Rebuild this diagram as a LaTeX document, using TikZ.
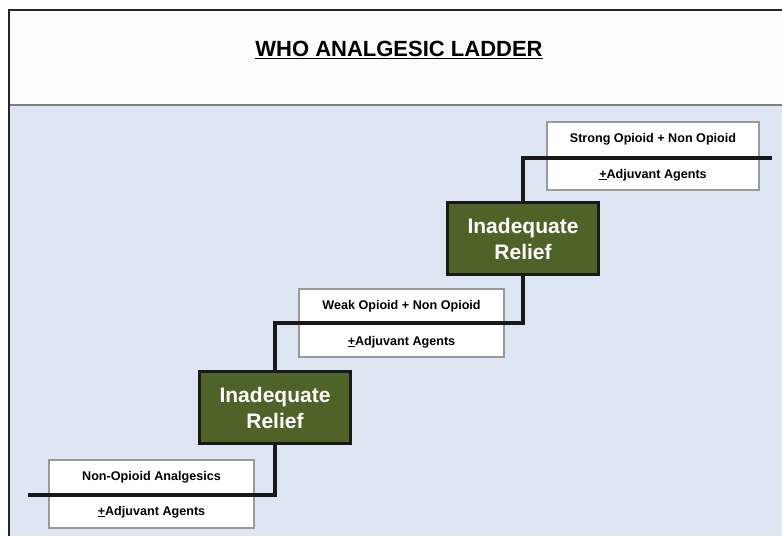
\documentclass[tikz,border=0pt]{standalone}
\usepackage{fontspec}
\setmainfont{Liberation Sans}
\definecolor{bgblue}{HTML}{DFE6F3}
\definecolor{stepgreen}{HTML}{4F6228}
\definecolor{boxgray}{HTML}{9A9A9A}
\begin{document}
\begin{tikzpicture}[x=1pt,y=-1pt,
  drugbox/.style={draw=boxgray,line width=1.2pt,fill=white,minimum width=#1,minimum height=68pt,inner sep=0pt},
  drugtext/.style={font=\bfseries\fontsize{12.6}{14}\selectfont,inner sep=0pt},
  relief/.style={draw=black!90,line width=3pt,fill=stepgreen,text=white,minimum width=151pt,minimum height=72pt,align=center,font=\bfseries\fontsize{21}{26}\selectfont,inner sep=0pt},
  stair/.style={line width=3.8pt,black!90}]
\useasboundingbox (0,0) rectangle (782,536);
\fill[white] (0,0) rectangle (782,536);
\fill[white!99!black] (9,10) rectangle (782,105);
\fill[bgblue] (9,105) rectangle (782,536);
\draw[gray,line width=1.5pt] (9,105) -- (782,105);
\draw[black!85,line width=2pt] (9,536) -- (9,10) -- (782,10);
\node[font=\bfseries\fontsize{22}{24}\selectfont,inner sep=0pt] (title) at (399,50) {\underline{WHO ANALGESIC LADDER}};
% drug boxes
\node[drugbox=205pt] (b1) at (151.5,494) {};
\node[drugbox=205pt] (b2) at (401.5,323) {};
\node[drugbox=212pt] (b3) at (653,156) {};
\node[drugtext] (b1t) at (151.5,477) {Non-Opioid Analgesics};
\node[drugtext] (b1b) at (151.5,512) {\underline{+}Adjuvant Agents};
\node[drugtext] (b2t) at (401.5,306) {Weak Opioid + Non Opioid};
\node[drugtext] (b2b) at (401.5,342) {\underline{+}Adjuvant Agents};
\node[drugtext] (b3t) at (653,139) {Strong Opioid + Non Opioid};
\node[drugtext] (b3b) at (653,175) {\underline{+}Adjuvant Agents};
% relief boxes
\node[relief] (g1) at (275,407.5) {Inadequate\\Relief};
\node[relief] (g2) at (523,238.5) {Inadequate\\Relief};
% stair line
\coordinate (s0) at (28,495);
\coordinate (s1) at (772,158);
\draw[stair] (s0) -| (g1.south);
\draw[stair] (g1.north) |- (b2.center -| g2.south) -- (g2.south);
\draw[stair] (g2.north) |- (s1);
\end{tikzpicture}
\end{document}
